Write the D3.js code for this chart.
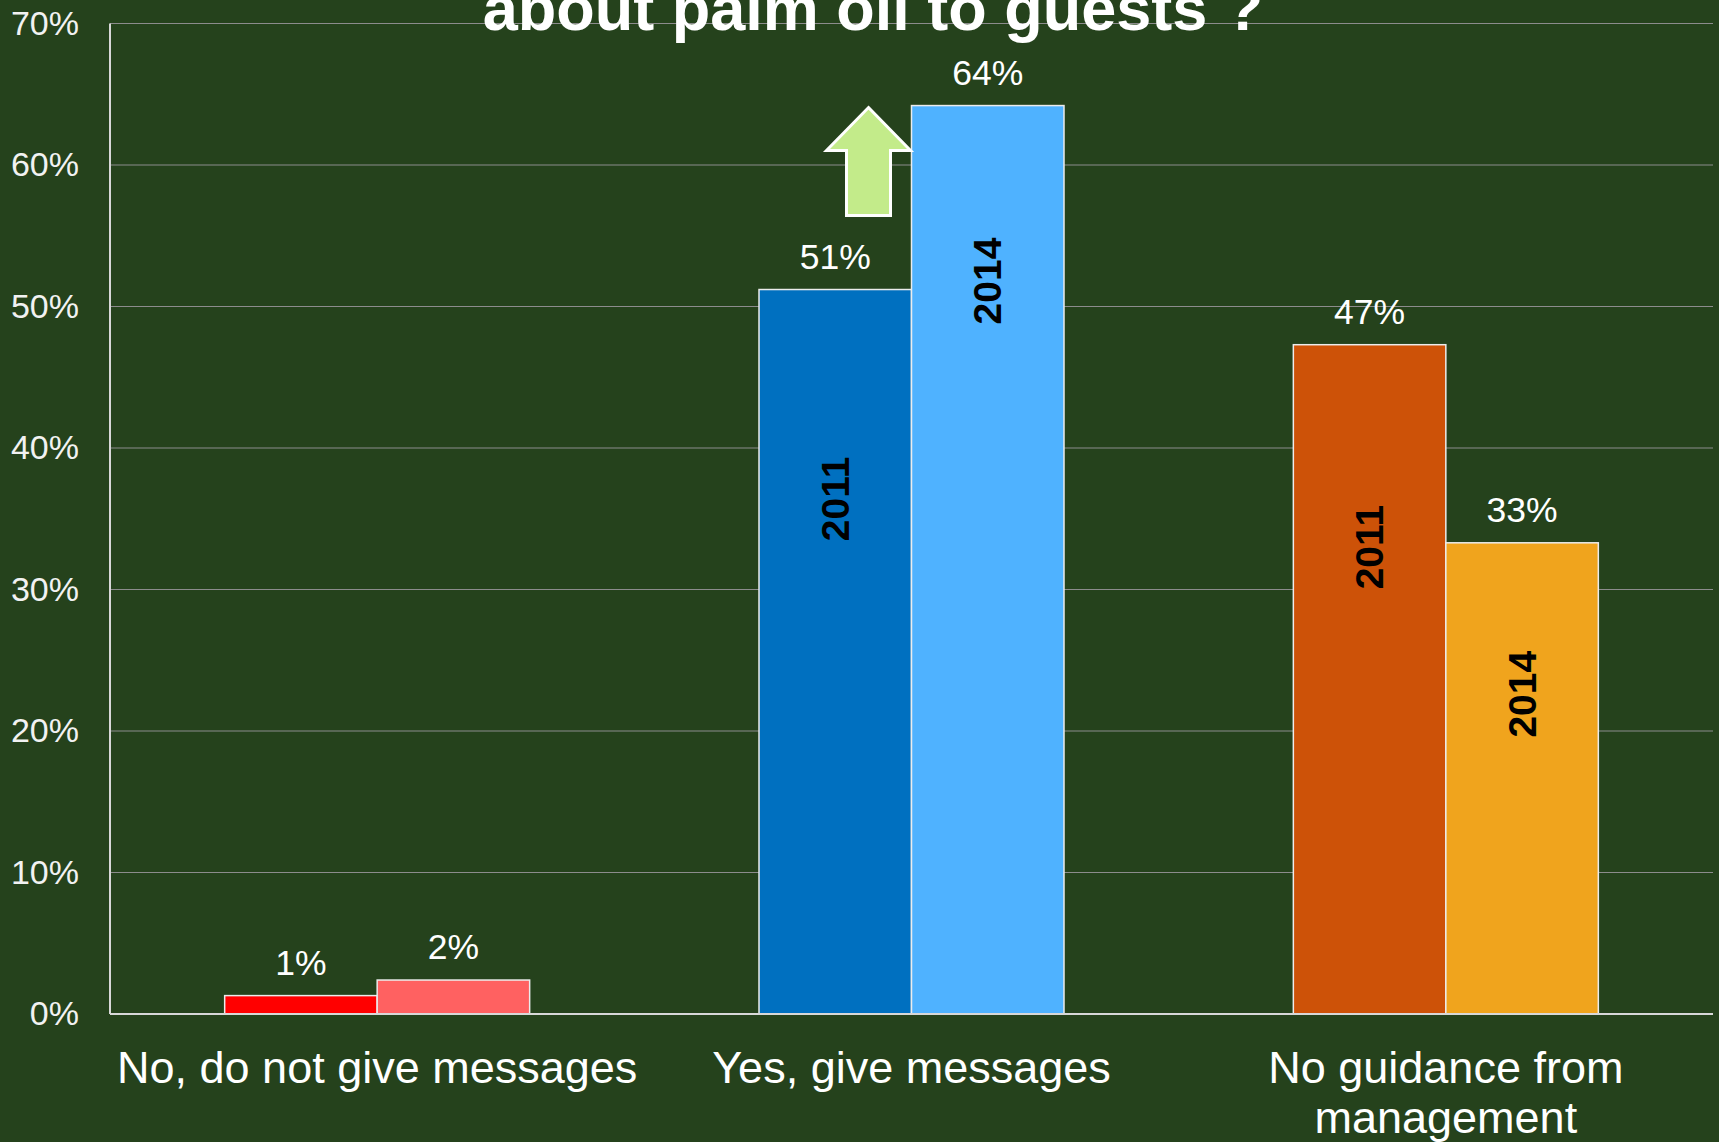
<!DOCTYPE html>
<html>
<head>
<meta charset="utf-8">
<script src="https://cdn.jsdelivr.net/npm/d3@7"></script>
<style>
  html, body { margin: 0; padding: 0; background: #25421c; }
  svg { display: block; }
  text { font-family: "Liberation Sans", Arial, sans-serif; }
</style>
</head>
<body>
<svg id="chart" width="1719" height="1142"></svg>
<script>
// Survey answers, 2011 vs 2014
const categories = ["No, do not give messages", "Yes, give messages", "No guidance from management"];
const categoryLines = [["No, do not give messages"], ["Yes, give messages"], ["No guidance from", "management"]];
const years = ["2011", "2014"];
const values2011 = [0.013, 0.512, 0.473];
const values2014 = [0.024, 0.642, 0.333];
const colors2011 = ["#ff0000", "#0070c0", "#cd5208"];
const colors2014 = ["#ff6161", "#4fb2ff", "#f0a41d"];
// value level at which the year tag inside each bar is centred (null = no tag)
const yearTagAt2011 = [null, 0.364, 0.330];
const yearTagAt2014 = [null, 0.518, 0.226];
const yTicks = [0, 0.1, 0.2, 0.3, 0.4, 0.5, 0.6, 0.7];
const titleText = "about palm oil to guests ?";

const svg = d3.select("#chart");
const W = 1719, H = 1142;
const plotLeft = 110, plotRight = 1713, plotTop = 23.5, plotBottom = 1014;

svg.append("rect").attr("width", W).attr("height", H).attr("fill", "#25421c");

const x0 = d3.scaleBand().domain(categories).range([plotLeft, plotRight]).padding(0);
const x1 = d3.scaleBand().domain(years).range([0, x0.bandwidth()])
  .paddingInner(0).paddingOuter(0.752);
const y = d3.scaleLinear().domain([0, 0.7]).range([plotBottom, plotTop]);
const pct = d3.format(".0%");

// horizontal gridlines
svg.append("g").selectAll("line")
  .data(yTicks.filter(d => d > 0))
  .join("line")
  .attr("x1", plotLeft).attr("x2", plotRight)
  .attr("y1", d => y(d)).attr("y2", d => y(d))
  .attr("stroke", "#8c8c8c").attr("stroke-width", 1);

// y axis labels
const yAxis = svg.append("g")
  .attr("transform", `translate(${plotLeft},0)`)
  .call(d3.axisLeft(y).tickValues(yTicks).tickFormat(pct).tickSize(0).tickPadding(31));
yAxis.select(".domain").remove();
yAxis.selectAll("text")
  .attr("fill", "#f2f2f2")
  .attr("font-size", 34)
  .style("font-family", "'Liberation Sans', Arial, sans-serif");

// title (second line of a two-line heading)
svg.append("text")
  .attr("x", 873).attr("y", 30)
  .attr("text-anchor", "middle")
  .attr("fill", "#ffffff")
  .attr("font-size", 63)
  .attr("font-weight", "bold")
  .text(titleText);

// bars
const rows = categories.map((c, i) => ({
  cat: c, i,
  bars: [
    { year: "2011", v: values2011[i], color: colors2011[i], tag: yearTagAt2011[i] },
    { year: "2014", v: values2014[i], color: colors2014[i], tag: yearTagAt2014[i] }
  ]
}));

const groups = svg.append("g").selectAll("g")
  .data(rows)
  .join("g")
  .attr("transform", d => `translate(${x0(d.cat)},0)`);

groups.selectAll("rect")
  .data(d => d.bars)
  .join("rect")
  .attr("x", d => x1(d.year))
  .attr("y", d => y(d.v))
  .attr("width", x1.bandwidth())
  .attr("height", d => y(0) - y(d.v))
  .attr("fill", d => d.color)
  .attr("stroke", "#ececec")
  .attr("stroke-width", 1.5);

// value labels
groups.selectAll("text.val")
  .data(d => d.bars)
  .join("text")
  .attr("class", "val")
  .attr("x", d => x1(d.year) + x1.bandwidth() / 2)
  .attr("y", d => y(d.v) - 21)
  .attr("text-anchor", "middle")
  .attr("fill", "#ffffff")
  .attr("font-size", 35.5)
  .text(d => pct(d.v));

// rotated year tags inside the bars
groups.selectAll("text.year")
  .data(d => d.bars.filter(b => b.tag !== null))
  .join("text")
  .attr("class", "year")
  .attr("transform", d => `translate(${x1(d.year) + x1.bandwidth() / 2},${y(d.tag)}) rotate(-90)`)
  .attr("text-anchor", "middle")
  .attr("dominant-baseline", "central")
  .attr("fill", "#000000")
  .attr("font-size", 39)
  .attr("font-weight", "bold")
  .text(d => d.year);

// axis lines
svg.append("line")
  .attr("x1", plotLeft).attr("x2", plotLeft).attr("y1", plotTop).attr("y2", plotBottom)
  .attr("stroke", "#d8d8d8").attr("stroke-width", 2);
svg.append("line")
  .attr("x1", plotLeft).attr("x2", plotRight).attr("y1", plotBottom).attr("y2", plotBottom)
  .attr("stroke", "#d8d8d8").attr("stroke-width", 2);

// category labels
svg.append("g").selectAll("text")
  .data(rows)
  .join("text")
  .attr("x", d => x0(d.cat) + x0.bandwidth() / 2)
  .attr("y", 1083)
  .attr("text-anchor", "middle")
  .attr("fill", "#ffffff")
  .attr("font-size", 45)
  .each(function(d) {
    const t = d3.select(this);
    categoryLines[d.i].forEach((line, k) => {
      t.append("tspan")
        .attr("x", x0(d.cat) + x0.bandwidth() / 2)
        .attr("dy", k === 0 ? 0 : 50)
        .text(line);
    });
  });

// upward arrow marking the rise of "Yes, give messages"
const yesCat = categories[1];
const barLeft2014 = x0(yesCat) + x1("2014");
const tipX = barLeft2014 - 43;
const tipY = y(values2014[1]) + 2;
const headHalf = 42, shaftHalf = 22, headLen = 43, totalLen = 108;
const arrowPts = [
  [tipX, tipY],
  [tipX + headHalf, tipY + headLen],
  [tipX + shaftHalf, tipY + headLen],
  [tipX + shaftHalf, tipY + totalLen],
  [tipX - shaftHalf, tipY + totalLen],
  [tipX - shaftHalf, tipY + headLen],
  [tipX - headHalf, tipY + headLen]
];
svg.append("path")
  .attr("d", d3.line()(arrowPts) + "Z")
  .attr("fill", "#c3eb8a")
  .attr("stroke", "#ffffff")
  .attr("stroke-width", 3)
  .attr("stroke-linejoin", "miter");
</script>
</body>
</html>
